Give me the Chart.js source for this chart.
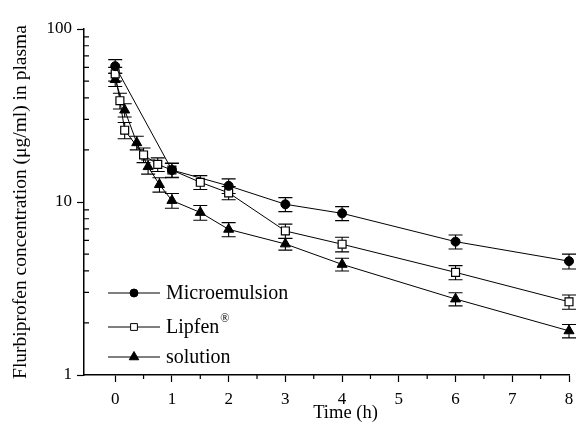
<!DOCTYPE html>
<html><head><meta charset="utf-8">
<script src="https://cdn.jsdelivr.net/npm/chart.js@4"></script>
<style>html,body{margin:0;padding:0;background:#fff}#wrap{width:576px;height:438px}</style>
</head><body><div id="wrap"><canvas id="c" width="576" height="438"></canvas></div>
<script>
// ---- data ----
const seriesNames = ['Microemulsion', 'Lipfen', 'solution'];

const timesMicro = [0, 1, 2, 3, 4, 6, 8];
const micro      = [61, 15.3, 12.4, 9.7, 8.6, 5.9, 4.55];
const microSD    = [5.5, 1.5, 1.2, 0.9, 0.8, 0.55, 0.45];

const timesLipfen = [0, 0.083, 0.167, 0.5, 0.75, 1, 1.5, 2, 3, 4, 6, 8];
const lipfen      = [55, 38.5, 26, 18.7, 16.5, 15.3, 13.0, 11.3, 6.8, 5.7, 3.92, 2.65];
const lipfenSD    = [5, 4, 2.8, 1.8, 1.5, 1.4, 1.2, 1.0, 0.65, 0.55, 0.37, 0.25];

const timesSol = [0, 0.167, 0.38, 0.58, 0.78, 1, 1.5, 2, 3, 4, 6, 8];
const solution = [51, 34, 22, 16, 12.6, 10.2, 8.7, 6.95, 5.72, 4.36, 2.75, 1.8];
const solSD    = [4.5, 3, 2, 1.5, 1.2, 1.0, 0.85, 0.65, 0.45, 0.37, 0.24, 0.16];

const xTicks = [0, 1, 2, 3, 4, 5, 6, 7, 8];
const xMinorTicks = [0.5, 1.5, 2.5, 3.5, 4.5, 5.5, 6.5, 7.5];
const yTicks = [1, 10, 100];
const yMinorTicks = [2, 3, 4, 5, 6, 7, 8, 9, 20, 30, 40, 50, 60, 70, 80, 90];

const xTitle = 'Time (h)';
const yTitle = 'Flurbiprofen concentration (\u03bcg/ml) in plasma';

// ---- build ----
const FONT = '"Liberation Serif", "Times New Roman", serif';
function pts(xs, ys) { return xs.map((x, i) => ({ x: x, y: ys[i] })); }

const sdList = [microSD, lipfenSD, solSD];

const datasets = [
  { label: seriesNames[0], data: pts(timesMicro, micro), pointStyle: 'circle', pointRadius: 4.5,
    backgroundColor: '#000', borderColor: '#000', pointBorderWidth: 1 },
  { label: seriesNames[1], data: pts(timesLipfen, lipfen), pointStyle: 'rect', pointRadius: 5.6,
    backgroundColor: '#fff', borderColor: '#000', pointBorderWidth: 1.2 },
  { label: seriesNames[2], data: pts(timesSol, solution), pointStyle: 'triangle', pointRadius: 5.8,
    backgroundColor: '#000', borderColor: '#000', pointBorderWidth: 1 }
].map(d => Object.assign({ showLine: true, borderWidth: 1, clip: false, tension: 0,
  pointHoverRadius: d.pointRadius }, d));

const errorBars = {
  id: 'errorBars',
  beforeDatasetsDraw(chart) {
    const ctx = chart.ctx, xs = chart.scales.x, ys = chart.scales.y;
    ctx.save();
    ctx.strokeStyle = '#000'; ctx.lineWidth = 1.1;
    chart.data.datasets.forEach((ds, di) => {
      const sd = sdList[di];
      ds.data.forEach((p, i) => {
        const px = xs.getPixelForValue(p.x);
        const yt = ys.getPixelForValue(p.y + sd[i]);
        const yb = ys.getPixelForValue(p.y - sd[i]);
        ctx.beginPath();
        ctx.moveTo(px, yt); ctx.lineTo(px, yb);
        ctx.moveTo(px - 7, yt); ctx.lineTo(px + 7, yt);
        ctx.moveTo(px - 7, yb); ctx.lineTo(px + 7, yb);
        ctx.stroke();
      });
    });
    ctx.restore();
  }
};

function drawMarker(ctx, style, x, y, r, fill) {
  ctx.beginPath();
  if (style === 'circle') { ctx.arc(x, y, r, 0, Math.PI * 2); }
  else if (style === 'rect') { const s = r * Math.SQRT1_2; ctx.rect(x - s, y - s, 2 * s, 2 * s); }
  else { ctx.moveTo(x, y - r); ctx.lineTo(x + r * 0.866, y + r / 2); ctx.lineTo(x - r * 0.866, y + r / 2); ctx.closePath(); }
  ctx.fillStyle = fill; ctx.fill(); ctx.stroke();
}

const extras = {
  id: 'extras',
  afterDraw(chart) {
    const ctx = chart.ctx, xs = chart.scales.x, ys = chart.scales.y, a = chart.chartArea;
    ctx.save();
    ctx.strokeStyle = '#000'; ctx.lineWidth = 1.2;
    // minor ticks
    ctx.beginPath();
    xMinorTicks.forEach(v => { const px = xs.getPixelForValue(v); ctx.moveTo(px, a.bottom); ctx.lineTo(px, a.bottom + 4); });
    yMinorTicks.forEach(v => { const py = ys.getPixelForValue(v); ctx.moveTo(a.left, py); ctx.lineTo(a.left + 5, py); });
    ctx.stroke();
    // x title
    ctx.fillStyle = '#000';
    ctx.font = '18.5px ' + FONT;
    ctx.textAlign = 'center'; ctx.textBaseline = 'middle';
    ctx.fillText(xTitle, (a.left + a.right) / 2 + 19, 413);
    // legend inside plot
    const rows = [293, 327, 357];
    const sizes = [4, 4.8, 5.5];
    ctx.textAlign = 'left';
    chart.data.datasets.forEach((ds, i) => {
      const y = rows[i];
      ctx.lineWidth = 1;
      ctx.beginPath(); ctx.moveTo(108, y); ctx.lineTo(160, y); ctx.stroke();
      drawMarker(ctx, ds.pointStyle, 134, y, sizes[i], ds.backgroundColor);
      ctx.fillStyle = '#000';
      ctx.font = '20px ' + FONT;
      ctx.fillText(ds.label, 166, y + 1);
      if (i === 1) {
        const w = ctx.measureText(ds.label).width;
        ctx.font = '12px ' + FONT;
        ctx.fillText('\u00ae', 166 + w + 1, y - 8);
      }
    });
    ctx.restore();
  }
};

new Chart(document.getElementById('c'), {
  type: 'scatter',
  data: { datasets: datasets },
  options: {
    responsive: false, animation: false, devicePixelRatio: 1,
    layout: { padding: { left: 0, top: 29, right: 7, bottom: 0 } },
    plugins: { legend: { display: false }, tooltip: { enabled: false } },
    scales: {
      x: {
        type: 'linear', min: -0.55, max: 8,
        afterBuildTicks: s => { s.ticks = xTicks.map(v => ({ value: v })); },
        afterFit: s => { s.height = 63; s.paddingLeft = 0; s.paddingRight = 0; },
        ticks: { color: '#000', font: { family: FONT, size: 17 }, padding: 7, maxRotation: 0,
          callback: v => String(v) },
        grid: { display: true, drawOnChartArea: false, drawTicks: true, tickLength: 7, color: '#000', tickWidth: 1.2 },
        border: { display: true, color: '#000', width: 1.5 }
      },
      y: {
        type: 'logarithmic', min: 1, max: 100,
        afterBuildTicks: s => { s.ticks = yTicks.map(v => ({ value: v })); },
        afterFit: s => { s.width = 84; },
        ticks: { color: '#000', font: { family: FONT, size: 17 }, padding: 5,
          callback: v => String(v) },
        grid: { display: true, drawOnChartArea: false, drawTicks: true, tickLength: 7, color: '#000', tickWidth: 1.2 },
        border: { display: true, color: '#000', width: 1.5 },
        title: { display: true, text: yTitle, color: '#000', font: { family: FONT, size: 19.5 }, padding: { top: 9, bottom: 0 } }
      }
    }
  },
  plugins: [errorBars, extras]
});
</script></body></html>
